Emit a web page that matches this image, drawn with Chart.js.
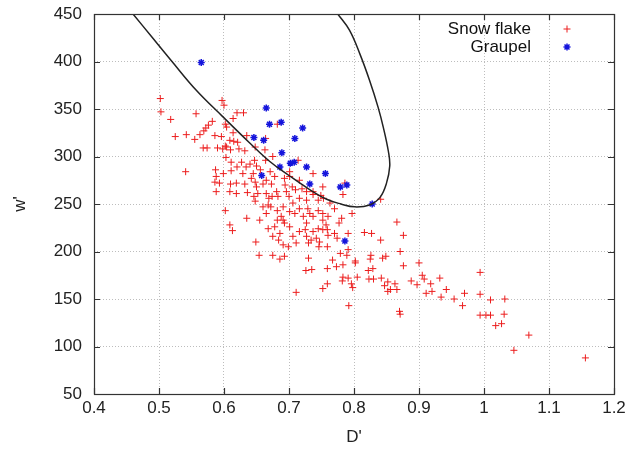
<!DOCTYPE html>
<html>
<head>
<meta charset="utf-8">
<script src="https://cdn.jsdelivr.net/npm/chart.js@4.4.1/dist/chart.umd.min.js"></script>
<style>
    html, body { margin: 0; padding: 0; background: #fff; }
</style>
</head>
<body>
<canvas id="graficaDw" width="637" height="451"></canvas>
<script>
    // valores: [D', w']
    const snowFlake = [
        [0.502,361],[0.503,347],[0.518,339],[0.557,345],[0.597,359],[0.600,354],[0.614,340],[0.620,346],[0.630,346],
        [0.582,337],[0.602,334],[0.604,331],[0.572,330],[0.563,323],[0.586,322],[0.596,321],[0.525,321],[0.542,323],
        [0.555,318],[0.569,327],[0.576,333],[0.614,325],[0.609,317],[0.615,316],[0.635,322],[0.602,311],[0.621,315],
        [0.568,309],[0.574,309],[0.590,309],[0.598,308],[0.604,310],[0.632,306],[0.623,308],[0.648,310],[0.663,307],
        [0.682,334],[0.603,299],[0.541,284],[0.611,294],[0.620,289],[0.627,294],[0.634,289],[0.640,292],[0.650,290],
        [0.656,286],[0.664,296],[0.675,300],[0.587,286],[0.599,282],[0.611,285],[0.629,282],[0.645,282],[0.671,284],
        [0.588,279],[0.586,273],[0.593,272],[0.610,271],[0.619,272],[0.632,271],[0.648,273],[0.660,271],[0.665,275],
        [0.673,271],[0.693,277],[0.701,279],[0.714,296],[0.737,282],[0.694,270],[0.705,268],[0.720,266],[0.588,263],
        [0.609,263],[0.619,261],[0.636,262],[0.652,261],[0.665,261],[0.681,263],[0.696,263],[0.710,265],[0.727,263],
        [0.786,272],[0.749,259],[0.610,307],[0.664,319],[0.647,296],[0.701,284],
        [0.646,258],[0.648,253],[0.668,249],[0.674,258],[0.700,258],[0.716,256],[0.727,254],[0.737,260],[0.745,254],
        [0.752,268],[0.763,251],[0.783,260],[0.602,243],[0.609,228],[0.613,222],[0.635,235],[0.655,233],[0.665,240],
        [0.672,247],[0.682,243],[0.688,237],[0.682,233],[0.691,233],[0.701,242],[0.709,240],[0.722,237],[0.732,240],
        [0.745,243],[0.752,233],[0.760,237],[0.777,230],[0.668,224],[0.678,226],[0.686,219],[0.684,212],[0.701,226],
        [0.716,221],[0.725,223],[0.734,212],[0.742,214],[0.747,210],[0.752,223],[0.759,223],[0.770,219],[0.774,214],
        [0.791,219],[0.816,220],[0.649,210],[0.654,196],[0.675,196],[0.686,192],[0.693,195],[0.699,205],[0.730,193],
        [0.746,205],[0.759,205],[0.779,198],[0.791,202],[0.726,180],[0.735,181],[0.759,182],[0.767,191],[0.773,184],
        [0.783,186],[0.802,190],[0.805,173],[0.783,173],[0.791,172],[0.796,166],[0.798,162],[0.782,169],[0.759,166],
        [0.752,161],[0.711,157],[0.792,143],[0.822,180],
        [0.678,279],[0.716,275],[0.737,263],[0.669,256],[0.683,258],[0.753,256],[0.660,247],[0.691,247],[0.706,251],
        [0.716,245],[0.729,245],[0.737,237],[0.752,240],[0.770,245],[0.693,230],[0.727,230],[0.757,228],[0.737,221],
        [0.745,224],[0.675,216],[0.706,216],[0.727,216],[0.760,217],[0.730,209],[0.691,207],[0.711,209],
        [0.642,277],[0.650,268],
        [0.866,231],[0.876,217],[0.827,219],[0.841,212],[0.871,200],[0.826,196],[0.825,192],[0.844,193],[0.849,195],
        [0.802,188],[0.876,185],[0.900,188],[0.829,182],[0.823,171],[0.830,171],[0.842,172],[0.847,164],[0.852,168],
        [0.852,158],[0.856,160],[0.863,166],[0.866,160],[0.888,169],[0.897,165],[0.905,175],[0.908,171],[0.918,166],
        [0.920,158],[0.911,156],[0.932,172],[0.942,160],[0.934,152],[0.954,150],[0.970,156],[0.967,143],[0.994,178],
        [0.994,155],[1.010,149],[1.032,150],[0.994,133],[1.003,133],[1.010,133],[1.031,134],[1.018,122],[1.027,124],
        [1.069,112],[1.046,96],[1.156,88],[0.870,137],[0.871,134],[0.841,255],[0.797,240],[0.781,235],[0.789,196]
    ];

    const graupel = [
        [0.565,399],[0.665,351],[0.670,334],[0.688,336],[0.721,330],[0.646,320],[0.661,317],[0.709,319],[0.689,304],
        [0.686,289],[0.702,293],[0.708,294],[0.727,289],[0.756,282],[0.658,280],[0.732,271],[0.779,268],[0.789,270],
        [0.786,211],[0.828,250]
    ];

    // curva de separacion (leida punto a punto)
    const frontera = [
        [0.460,450],[0.490,425],[0.520,400],[0.557,370],[0.598,342],[0.640,314],[0.670,295],[0.700,280],[0.730,266],
        [0.758,255],[0.780,250],[0.801,247],[0.824,249],[0.840,257],[0.850,272],[0.855,290],[0.853,305],[0.845,331],
        [0.837,352],[0.824,380],[0.809,408],[0.793,433],[0.775,450]
    ];

    const ticksX = [0.4, 0.5, 0.6, 0.7, 0.8, 0.9, 1, 1.1, 1.2];
    const ticksY = [50, 100, 150, 200, 250, 300, 350, 400, 450];

    const aPuntos = arr => arr.map(p => ({ x: p[0], y: p[1] }));

    const fuente = '"Liberation Sans", Arial, sans-serif';
    Chart.defaults.font.family = fuente;
    Chart.defaults.font.size = 17;
    Chart.defaults.color = '#222';

    // marco completo con ticks hacia adentro
    const marco = {
        id: 'marco',
        afterDatasetsDraw(chart) {
            const { ctx, chartArea: a, scales: { x, y } } = chart;
            ctx.save();
            ctx.strokeStyle = '#333';
            ctx.lineWidth = 1.2;
            ctx.beginPath();
            ticksX.forEach(v => {
                const px = Math.round(x.getPixelForValue(v)) + 0.5;
                ctx.moveTo(px, a.bottom); ctx.lineTo(px, a.bottom - 6);
                ctx.moveTo(px, a.top); ctx.lineTo(px, a.top + 6);
            });
            ticksY.forEach(v => {
                const py = Math.round(y.getPixelForValue(v)) + 0.5;
                ctx.moveTo(a.left, py); ctx.lineTo(a.left + 6, py);
                ctx.moveTo(a.right, py); ctx.lineTo(a.right - 6, py);
            });
            ctx.stroke();
            ctx.strokeRect(Math.round(a.left) + 0.5, Math.round(a.top) + 0.5, Math.round(a.width), Math.round(a.height));
            ctx.restore();
        }
    };

    // leyenda estilo gnuplot: texto a la izquierda, simbolo a la derecha
    const leyenda = {
        id: 'leyenda',
        afterDraw(chart) {
            const ctx = chart.ctx;
            ctx.save();
            ctx.font = '17px ' + fuente;
            ctx.textAlign = 'right';
            ctx.textBaseline = 'middle';
            chart.data.datasets.slice(0, 2).forEach((ds, i) => {
                const yy = 29 + i * 18;
                const r = 3.5;
                ctx.fillStyle = '#111';
                ctx.fillText(ds.label, 531, yy);
                ctx.strokeStyle = ds.borderColor;
                ctx.lineWidth = ds.borderWidth;
                ctx.beginPath();
                ctx.moveTo(567 - r, yy); ctx.lineTo(567 + r, yy);
                ctx.moveTo(567, yy - r); ctx.lineTo(567, yy + r);
                if (ds.pointStyle === 'star') {
                    const d = r * 0.707;
                    ctx.moveTo(567 - d, yy - d); ctx.lineTo(567 + d, yy + d);
                    ctx.moveTo(567 - d, yy + d); ctx.lineTo(567 + d, yy - d);
                }
                ctx.stroke();
            });
            ctx.restore();
        }
    };

    new Chart(document.getElementById('graficaDw'), {
        type: 'scatter',
        data: {
            datasets: [{
                label: 'Snow flake',
                data: aPuntos(snowFlake),
                pointStyle: 'cross',
                pointRadius: 3.5,
                borderColor: 'rgb(236,30,30)',
                borderWidth: 1,
                order: 2
            }, {
                label: 'Graupel',
                data: aPuntos(graupel),
                pointStyle: 'star',
                pointRadius: 3.5,
                borderColor: 'rgb(20,20,220)',
                borderWidth: 1.5,
                order: 1
            }, {
                label: 'frontera',
                data: aPuntos(frontera),
                showLine: true,
                tension: 0.4,
                fill: false,
                pointRadius: 0,
                borderColor: '#222',
                borderWidth: 1.5,
                order: 0
            }]
        },
        options: {
            responsive: false,
            animation: false,
            devicePixelRatio: 1,
            layout: { autoPadding: false, padding: { left: 0, top: 14, right: 23, bottom: 0 } },
            plugins: {
                legend: { display: false },
                tooltip: { enabled: false }
            },
            scales: {
                x: {
                    type: 'linear',
                    min: ticksX[0],
                    max: ticksX[ticksX.length - 1],
                    afterBuildTicks: s => { s.ticks = ticksX.map(v => ({ value: v })); },
                    afterFit: s => { s.height = 57; s.paddingLeft = 0; s.paddingRight = 0; },
                    ticks: { padding: 4, callback: v => String(v), maxRotation: 0 },
                    grid: { color: '#bdbdbd', drawTicks: false },
                    border: { display: false, dash: [1, 2] },
                    title: { display: true, text: "D'", padding: { top: 0, bottom: 3 } }
                },
                y: {
                    type: 'linear',
                    min: ticksY[0],
                    max: ticksY[ticksY.length - 1],
                    afterBuildTicks: s => { s.ticks = ticksY.map(v => ({ value: v })); },
                    afterFit: s => { s.width = 94; s.paddingTop = 0; s.paddingBottom = 0; },
                    ticks: { padding: 12, callback: v => String(v) },
                    grid: { color: '#bdbdbd', drawTicks: false },
                    border: { display: false, dash: [1, 2] },
                    title: { display: true, text: "w'", padding: { top: 10, bottom: 0 } }
                }
            }
        },
        plugins: [marco, leyenda]
    });
</script>
</body>
</html>
